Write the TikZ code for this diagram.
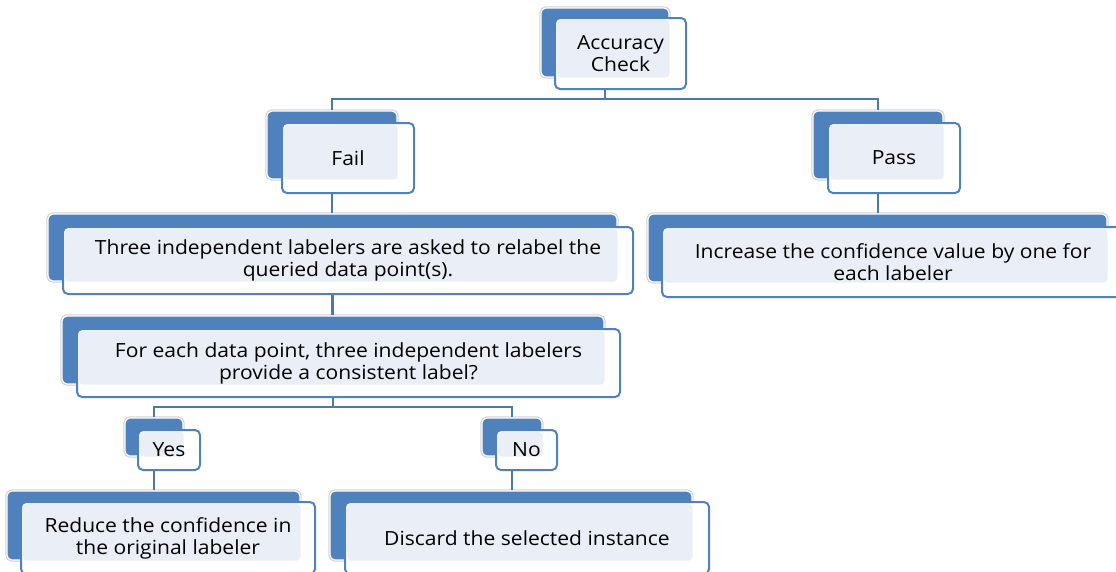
\documentclass[tikz,border=0pt]{standalone}
\usepackage{fontspec}
\setmainfont[FakeStretch=1.08]{Open Sans}
\usetikzlibrary{positioning}
\definecolor{boxblue}{HTML}{4F81BD}
\definecolor{linkblue}{HTML}{4A78B0}
\definecolor{boxlight}{HTML}{EAEFF7}

\tikzset{
  backbox/.style={rectangle, rounded corners=5pt, inner sep=0pt, fill=boxblue,
    draw=white, line width=1.2pt, preaction={draw=black!18, line width=3.4pt}},
  frontbox/.style={rectangle, rounded corners=5pt, inner sep=0pt, fill=white,
    draw=boxblue, line width=2pt, align=center, font=\fontsize{19.5}{22}\selectfont,
    path picture={\fill[boxlight, rounded corners=4pt]
      ([shift={(2pt,-2pt)}]path picture bounding box.north west) rectangle (#1.south east);}},
  link/.style={draw=linkblue, line width=2.6pt},
}

\begin{document}
\begin{tikzpicture}[x=1pt, y=-1pt]
	\useasboundingbox (0,0) rectangle (1116,571);
	% back shapes
	\node[backbox, minimum width=128, minimum height=69] (acc) at (605,42.5) {};
	\node[backbox, minimum width=130, minimum height=68] (fail) at (332,145) {};
	\node[backbox, minimum width=130, minimum height=68] (pass) at (878,145) {};
	\node[backbox, minimum width=569, minimum height=67] (three) at (332.5,247.5) {};
	\node[backbox, minimum width=459, minimum height=68] (incr) at (877.5,248) {};
	\node[backbox, minimum width=542, minimum height=68] (cons) at (333,350) {};
	\node[backbox, minimum width=58, minimum height=38] (yes) at (154,437) {};
	\node[backbox, minimum width=60, minimum height=38] (no) at (512,437) {};
	\node[backbox, minimum width=293, minimum height=69] (red) at (153.5,525.5) {};
	\node[backbox, minimum width=362, minimum height=69] (disc) at (511,525.5) {};

	% connectors
	\coordinate (accsplit) at (605,99);
	\coordinate (conssplit) at (333,407);
	\path[link]
		(acc.south) -- (accsplit) -| (fail.north)
		(accsplit) -| (pass.north)
		(fail.south) -- (fail.south |- three.north)
		(pass.south) -- (pass.south |- incr.north)
		(three.south) -- (three.south |- cons.north)
		(cons.south) -- (conssplit) -| (yes.north)
		(conssplit) -| (no.north)
		(yes.south) -- (yes.south |- red.north)
		(no.south) -- (no.south |- disc.north)
	;

	% front shapes with text
	\node[frontbox=acc, minimum width=131, minimum height=71] (acctext) at (620.5,53.5) {Accuracy\\Check};
	\node[frontbox=fail, minimum width=132, minimum height=70] (failtext) at (348,158) {Fail};
	\node[frontbox=pass, minimum width=132, minimum height=70] (passtext) at (894,158) {Pass};
	\node[frontbox=three, minimum width=570, minimum height=67] (threetext) at (348,260.5)
		{Three independent labelers are asked to relabel the\\queried data point(s).};
	\node[frontbox=incr, minimum width=462, minimum height=70] (incrtext) at (893,262)
		{Increase the confidence value by one for\\each labeler};
	\node[frontbox=cons, minimum width=543, minimum height=68] (constext) at (348.5,363)
		{For each data point, three independent labelers\\provide a consistent label?};
	\node[frontbox=yes, minimum width=62, minimum height=40] (yestext) at (169,450) {Yes};
	\node[frontbox=no, minimum width=61, minimum height=40] (notext) at (526.5,450) {No};
	\node[frontbox=red, minimum width=294, minimum height=72] (redtext) at (168,538)
		{Reduce the confidence in\\the original labeler};
	\node[frontbox=disc, minimum width=364, minimum height=72] (disctext) at (527,538)
		{Discard the selected instance};
\end{tikzpicture}
\end{document}
